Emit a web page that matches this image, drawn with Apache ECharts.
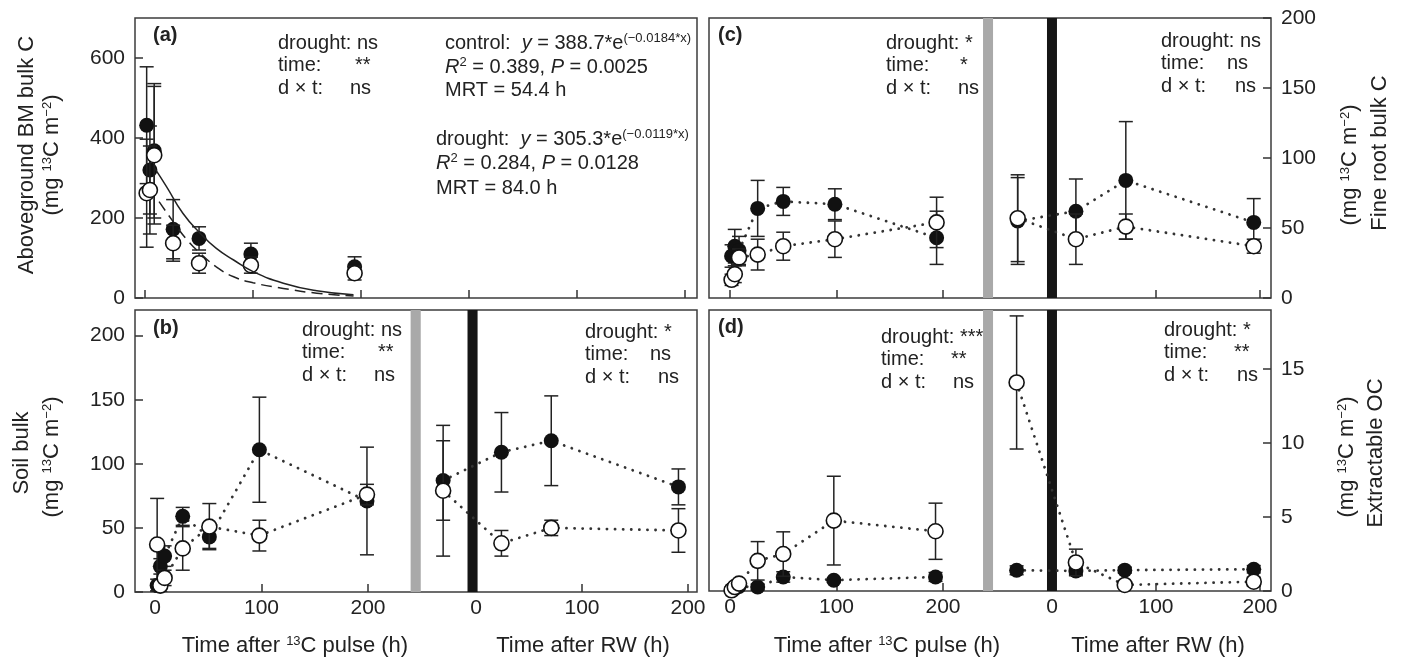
<!DOCTYPE html>
<html>
<head>
<meta charset="utf-8">
<script src="https://cdn.jsdelivr.net/npm/echarts@6/dist/echarts.min.js"></script>
<style>
html, body { margin: 0; background: #fff; }
#chart { width: 1402px; height: 660px; }
</style>
</head>
<body>
<div id="chart"></div>
<script>
// (a) aboveground biomass, hours after 13C pulse
const aTime = [1.5, 4.5, 8.5, 26, 50, 98, 194]
const aCtrl = [432, 320, 368, 172, 149, 110, 78]
const aCtrlErr = [146, 110, 168, 74, 29, 27, 25]
const aDrt = [262, 270, 357, 137, 87, 82, 62]
const aDrtErr = [135, 110, 172, 45, 25, 20, 17]
// fitted curves
const aCtrlFitT = [9, 20, 35, 51, 66, 82, 100, 128, 159, 193]
const aCtrlFitV = [324, 278, 212, 162, 124, 95, 66, 37, 18, 8]
const aDrtFitT = [13, 26, 39, 51, 66, 82, 100, 128, 159, 193]
const aDrtFitV = [241, 191, 145, 112, 78, 53, 38, 24, 12, 5]

// (b) soil bulk
const bTime = [2, 5, 9, 26, 51, 98, 199]
const bCtrl = [5, 20, 28, 59, 43, 111, 71]
const bCtrlErr = [5, 6, 8, 7, 9, 41, 42]
const bDrt = [37, 5, 11, 34, 51, 44, 76]
const bDrtErr = [36, 5, 6, 17, 18, 12, 8]
const bRW = [-31, 24, 71, 191]
const bRWCtrl = [87, 109, 118, 82]
const bRWCtrlErr = [31, 31, 35, 14]
const bRWDrt = [79, 38, 50, 48]
const bRWDrtErr = [51, 10, 6, 17]

// (c) fine root bulk
const cTime = [1.5, 4.5, 8.5, 26, 50, 98.5, 194]
const cCtrl = [30, 37, 34, 64, 69, 67, 43]
const cCtrlErr = [8, 12, 10, 20, 10, 11, 19]
const cDrt = [13, 17, 29, 31, 37, 42, 54]
const cDrtErr = [4, 6, 6, 11, 10, 13, 18]
const cRW = [-33, 23, 71, 194]
const cRWCtrl = [55, 62, 84, 54]
const cRWCtrlErr = [31, 23, 42, 17]
const cRWDrt = [57, 42, 51, 37]
const cRWDrtErr = [31, 18, 9, 5]

// (d) extractable OC
const dTime = [1.5, 4.5, 8.5, 26, 50, 97.5, 193]
const dCtrl = [0.1, 0.15, 0.3, 0.27, 0.95, 0.73, 0.95]
const dCtrlErr = [0.05, 0.05, 0.1, 0.2, 0.35, 0.15, 0.3]
const dDrt = [0.05, 0.27, 0.5, 2.04, 2.5, 4.76, 4.04]
const dDrtErr = [0.05, 0.1, 0.1, 1.3, 1.5, 3.0, 1.9]
const dRW = [-34, 23, 70, 194]
const dRWCtrl = [1.4, 1.36, 1.41, 1.47]
const dRWCtrlErr = [0.3, 0.25, 0.2, 0.25]
const dRWDrt = [14.1, 1.93, 0.41, 0.63]
const dRWDrtErr = [4.5, 0.9, 0.1, 0.3]

const FONT = '"Liberation Sans", Arial, sans-serif'
const INK = '#222'

function pts(t, v, e) {
    return t.map((x, i) => e ? [x, v[i], e[i]] : [x, v[i]])
}

function errBar(params, api) {
    const x = api.value(0), v = api.value(1), e = api.value(2)
    const hi = api.coord([x, v + e])
    const lo = api.coord([x, v - e])
    const w = 7
    const st = { stroke: INK, lineWidth: 1.5 }
    return {
        type: 'group',
        children: [
            { type: 'line', shape: { x1: hi[0], y1: hi[1], x2: lo[0], y2: lo[1] }, style: st },
            { type: 'line', shape: { x1: hi[0] - w, y1: hi[1], x2: hi[0] + w, y2: hi[1] }, style: st },
            { type: 'line', shape: { x1: lo[0] - w, y1: lo[1], x2: lo[0] + w, y2: lo[1] }, style: st }
        ]
    }
}

// one treatment: dotted line, error bars, circles
function group(xi, yi, t, v, e, open, dots, bar) {
    const out = []
    if (dots) {
        const line = {
            type: 'line', xAxisIndex: xi, yAxisIndex: yi, data: pts(t, v),
            symbol: 'none', silent: true, z: 1,
            lineStyle: { color: '#333', width: 2.8, type: [0.1, 8], cap: 'round' }
        }
        if (bar) {
            line.markArea = {
                silent: true,
                itemStyle: { color: bar.color, opacity: 1 },
                data: [[{ xAxis: bar.from }, { xAxis: bar.to }]]
            }
        }
        out.push(line)
    }
    out.push({
        type: 'custom', xAxisIndex: xi, yAxisIndex: yi, data: pts(t, v, e),
        renderItem: errBar, encode: { x: 0, y: 1 }, clip: true, silent: true, z: open ? 4 : 2
    })
    out.push({
        type: 'scatter', xAxisIndex: xi, yAxisIndex: yi, data: pts(t, v),
        symbol: 'circle', symbolSize: 15, silent: true, z: open ? 5 : 3,
        itemStyle: open
            ? { color: '#fff', borderColor: '#111', borderWidth: 1.6, opacity: 1 }
            : { color: '#111', opacity: 1 }
    })
    return out
}

function xAx(grid, min, max, ticks, labels) {
    return {
        type: 'value', gridIndex: grid, min: min, max: max, position: 'bottom',
        axisLine: { show: false, onZero: false }, splitLine: { show: false },
        axisTick: { inside: true, length: 8, customValues: ticks, lineStyle: { color: '#333', width: 1.5 } },
        axisLabel: { show: labels, customValues: ticks, fontSize: 21, color: INK, fontFamily: FONT, margin: 6 }
    }
}

function yAx(grid, max, ticks, side) {
    return {
        type: 'value', gridIndex: grid, min: 0, max: max, position: side,
        axisLine: { show: false, onZero: false }, splitLine: { show: false },
        axisTick: { inside: true, length: 8, customValues: ticks, lineStyle: { color: '#333', width: 1.5 } },
        axisLabel: { customValues: ticks, fontSize: 21, color: INK, fontFamily: FONT, margin: 10 }
    }
}

const rich = {
    s: { fontSize: 13, fontFamily: FONT, verticalAlign: 'top', lineHeight: 23 },
    i: { fontStyle: 'italic', fontSize: 20, fontFamily: FONT, lineHeight: 23 }
}

function txt(x, y, text, opt) {
    opt = opt || {}
    return {
        type: 'text', x: x, y: y, rotation: opt.rot || 0, silent: true, z: 10,
        style: {
            text: text, rich: rich, fill: INK,
            fontSize: opt.size || 20, fontFamily: FONT, fontWeight: opt.bold ? 'bold' : 'normal',
            align: opt.align || 'left', verticalAlign: 'middle',
            textAlign: opt.align || 'left', textVerticalAlign: 'middle'
        }
    }
}

// three line ANOVA block
function stats(x, y, d, tv, tx, dx, dxx) {
    return [
        txt(x, y, 'drought: ' + d),
        txt(x, y + 22, 'time:'),
        txt(tx, y + 22, tv),
        txt(x, y + 45, 'd \u00d7 t:'),
        txt(dxx, y + 45, dx)
    ]
}

const unit = '(mg {s|13}C m{s|\u22122})'
const big = { rot: Math.PI / 2, align: 'center', size: 22 }

const graphics = [
    txt(153, 35, '(a)', { bold: true, size: 20 }),
    txt(153, 328, '(b)', { bold: true, size: 20 }),
    txt(718, 35, '(c)', { bold: true, size: 20 }),
    txt(718, 327, '(d)', { bold: true, size: 20 }),
    ...stats(278, 43, 'ns', '**', 355, 'ns', 350),
    ...stats(302, 330, 'ns', '**', 378, 'ns', 374),
    ...stats(585, 332, '*', 'ns', 650, 'ns', 658),
    ...stats(886, 43, '*', '*', 960, 'ns', 958),
    ...stats(1161, 41, 'ns', 'ns', 1227, 'ns', 1235),
    ...stats(881, 337, '***', '**', 951, 'ns', 953),
    ...stats(1164, 330, '*', '**', 1234, 'ns', 1237),
    txt(445, 43, 'control:  {i|y} = 388.7*e{s|(\u22120.0184*x)}'),
    txt(445, 67, '{i|R}{s|2} = 0.389, {i|P} = 0.0025'),
    txt(445, 90, 'MRT = 54.4 h'),
    txt(436, 139, 'drought:  {i|y} = 305.3*e{s|(\u22120.0119*x)}'),
    txt(436, 163, '{i|R}{s|2} = 0.284, {i|P} = 0.0128'),
    txt(436, 188, 'MRT = 84.0 h'),
    // axis titles
    txt(27, 155, 'Aboveground BM bulk C', big),
    txt(52, 155, unit, big),
    txt(22, 453, 'Soil bulk', big),
    txt(52, 457, unit, big),
    txt(1350, 165, unit, big),
    txt(1380, 153, 'Fine root bulk C', big),
    txt(1347, 457, unit, big),
    txt(1376, 453, 'Extractable OC', big),
    txt(295, 646, 'Time after {s|13}C pulse (h)', { align: 'center', size: 22 }),
    txt(583, 646, 'Time after RW (h)', { align: 'center', size: 22 }),
    txt(887, 646, 'Time after {s|13}C pulse (h)', { align: 'center', size: 22 }),
    txt(1158, 646, 'Time after RW (h)', { align: 'center', size: 22 })
]

const gray = '#a9a9a9'
const black = '#151515'
const gridBox = { show: true, borderColor: '#3c3c3c', borderWidth: 1.5, backgroundColor: 'transparent' }

const series = [
    // (a)
    ...group(0, 0, aTime, aCtrl, aCtrlErr, false, false),
    ...group(0, 0, aTime, aDrt, aDrtErr, true, false),
    {
        type: 'line', xAxisIndex: 0, yAxisIndex: 0, data: pts(aCtrlFitT, aCtrlFitV), smooth: true,
        symbol: 'none', silent: true, z: 6, lineStyle: { color: INK, width: 1.5 }
    },
    {
        type: 'line', xAxisIndex: 0, yAxisIndex: 0, data: pts(aDrtFitT, aDrtFitV), smooth: true,
        symbol: 'none', silent: true, z: 6, lineStyle: { color: INK, width: 1.5, type: [11, 6] }
    },
    // (b)
    ...group(1, 1, bTime, bCtrl, bCtrlErr, false, true, { color: gray, from: 240, to: 249.5 }),
    ...group(1, 1, bTime, bDrt, bDrtErr, true, true),
    ...group(2, 1, bRW, bRWCtrl, bRWCtrlErr, false, true, { color: black, from: -8, to: 1.5 }),
    ...group(2, 1, bRW, bRWDrt, bRWDrtErr, true, true),
    // (c)
    ...group(3, 2, cTime, cCtrl, cCtrlErr, false, true, { color: gray, from: 237.6, to: 247 }),
    ...group(3, 2, cTime, cDrt, cDrtErr, true, true),
    ...group(4, 2, cRW, cRWCtrl, cRWCtrlErr, false, true, { color: black, from: -4.8, to: 4.8 }),
    ...group(4, 2, cRW, cRWDrt, cRWDrtErr, true, true),
    // (d)
    ...group(5, 3, dTime, dCtrl, dCtrlErr, false, true, { color: gray, from: 237.6, to: 247 }),
    ...group(5, 3, dTime, dDrt, dDrtErr, true, true),
    ...group(6, 3, dRW, dRWCtrl, dRWCtrlErr, false, true, { color: black, from: -4.8, to: 4.8 }),
    ...group(6, 3, dRW, dRWDrt, dRWDrtErr, true, true)
]

const chart = echarts.init(document.getElementById('chart'))
chart.setOption({
    animation: false,
    backgroundColor: '#fff',
    grid: [
        Object.assign({ left: 135, top: 18, width: 562, height: 280 }, gridBox),
        Object.assign({ left: 135, top: 310, width: 562, height: 282 }, gridBox),
        Object.assign({ left: 709, top: 18, width: 562, height: 280 }, gridBox),
        Object.assign({ left: 709, top: 310, width: 562, height: 281 }, gridBox)
    ],
    xAxis: [
        xAx(0, -9.3, 511, [0, 100, 200, 300, 400, 500], false),
        xAx(1, -18.8, 508.9, [0, 100, 200], true),
        xAx(1, -321.7, 208.5, [0, 100, 200], true),
        xAx(2, -19.7, 508, [0, 100, 200], false),
        xAx(2, -329.8, 210.6, [0, 100, 200], false),
        xAx(3, -19.7, 508, [0, 100, 200], true),
        xAx(3, -329.8, 210.6, [0, 100, 200], true)
    ],
    yAxis: [
        yAx(0, 700, [0, 200, 400, 600], 'left'),
        yAx(1, 220, [0, 50, 100, 150, 200], 'left'),
        yAx(2, 200, [0, 50, 100, 150, 200], 'right'),
        yAx(3, 19, [0, 5, 10, 15], 'right')
    ],
    graphic: graphics,
    series: series
})
</script>
</body>
</html>
